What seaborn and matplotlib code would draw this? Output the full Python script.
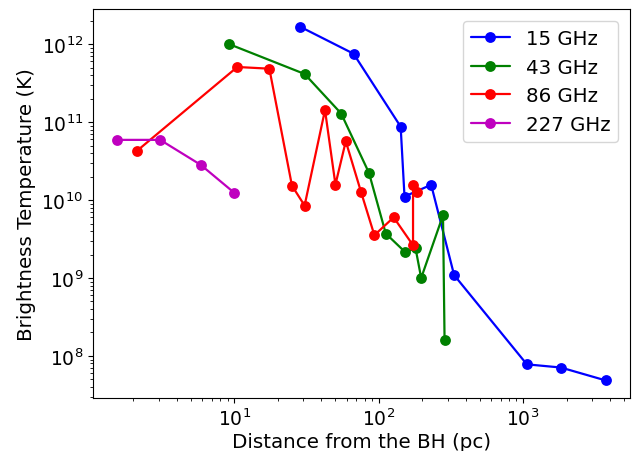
import matplotlib
matplotlib.use("Agg")
import matplotlib.pyplot as plt
import seaborn as sns
import pandas as pd

# Distance from the black hole (pc) and brightness temperature (K) per frequency
dist_15 = [28.5, 67, 142, 151, 231, 333, 1062, 1828, 3733]
tb_15 = [1.68e12, 7.55e11, 8.75e10, 1.11e10, 1.57e10, 1.09e9, 7.8e7, 7.1e7, 4.85e7]

dist_43 = [9.24, 30.7, 55, 85.7, 112, 153, 180, 197, 279, 286]
tb_43 = [1.0e12, 4.15e11, 1.29e11, 2.23e10, 3.72e9, 2.14e9, 2.41e9, 1.0e9, 6.38e9, 1.6e8]

dist_86 = [2.13, 10.5, 17.5, 25.1, 30.7, 42.5, 50.2, 59.2, 75.5, 93.4, 127, 173, 173, 184]
tb_86 = [4.31e10, 5.1e11, 4.85e11, 1.53e10, 8.5e9, 1.43e11, 1.58e10, 5.68e10, 1.27e10,
         3.54e9, 6.0e9, 2.63e9, 1.55e10, 1.27e10]

dist_227 = [1.55, 3.07, 5.86, 10.0]
tb_227 = [5.92e10, 5.92e10, 2.83e10, 1.24e10]

labels = ["15 GHz", "43 GHz", "86 GHz", "227 GHz"]
colors = ["b", "g", "r", "m"]

sns.set_style("ticks", {"axes.edgecolor": "black", "text.color": "black",
                        "axes.labelcolor": "black", "xtick.color": "black",
                        "ytick.color": "black"})
fig, ax = plt.subplots(figsize=(6.32, 4.52), dpi=100)
fig.subplots_adjust(left=0.147, right=0.997, top=0.978, bottom=0.117)

series = [(dist_15, tb_15), (dist_43, tb_43), (dist_86, tb_86), (dist_227, tb_227)]
for (d, t), lab, c in zip(series, labels, colors):
    df = pd.DataFrame({"dist": d, "tb": t})
    sns.lineplot(data=df, x="dist", y="tb", sort=False, estimator=None,
                 color=c, marker="o", markersize=7.8, markeredgewidth=0,
                 linewidth=1.6, label=lab, ax=ax)

ax.set_xscale("log")
ax.set_yscale("log")
ax.set_xlabel("Distance from the BH (pc)", fontsize=14.3, labelpad=2)
ax.set_ylabel("Brightness Temperature (K)", fontsize=14.3)
ax.tick_params(axis="both", which="major", labelsize=13.5)
for s in ax.spines.values():
    s.set_visible(True)
ax.legend(loc="upper right", fontsize=14.2, borderaxespad=0.6)

fig.savefig("out.png", dpi=100)
